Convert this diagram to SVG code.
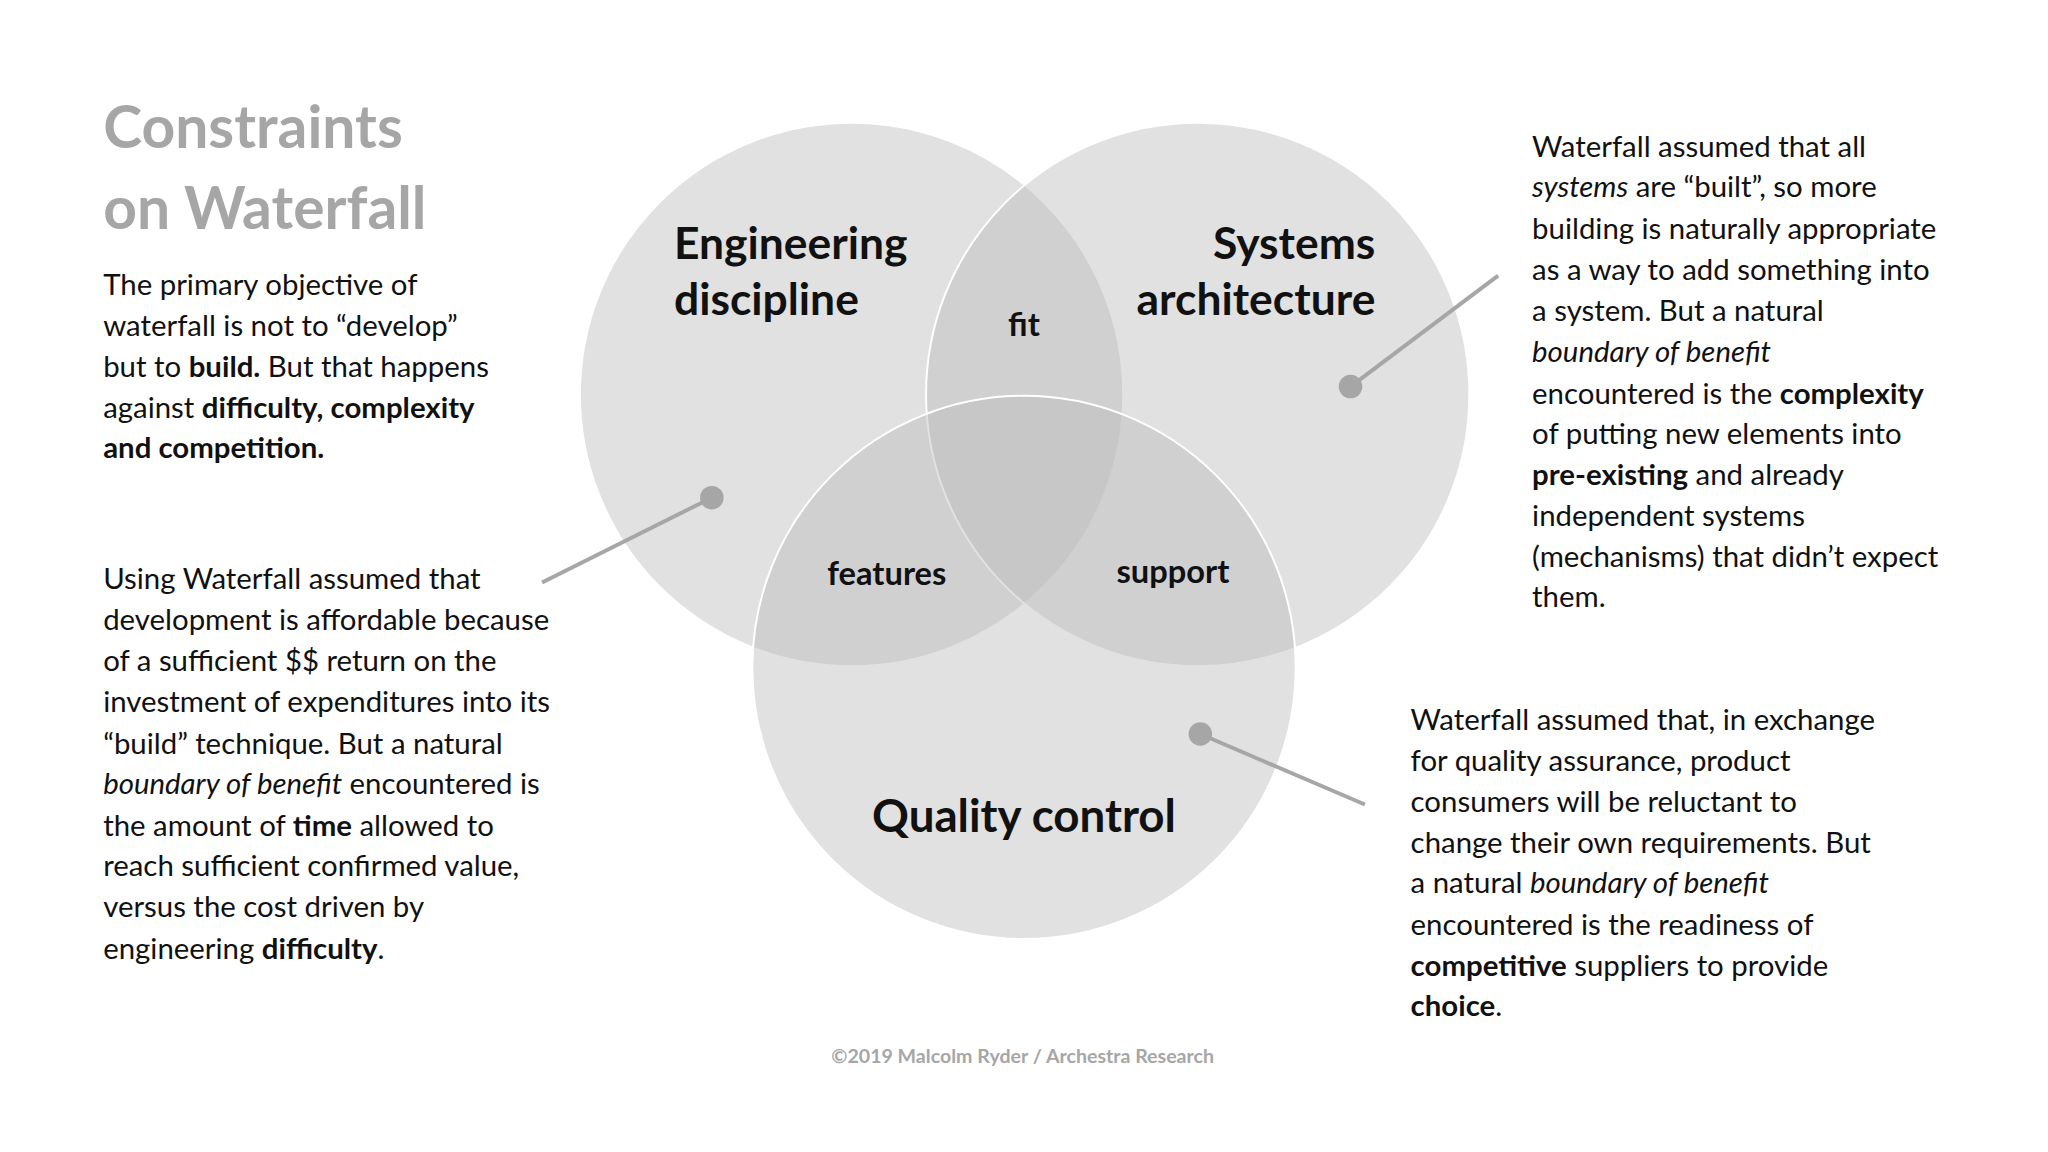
<svg xmlns="http://www.w3.org/2000/svg" width="2048" height="1152" viewBox="0 0 2048 1152">
<style>
.c{fill:#bdbdbd;fill-opacity:.45;stroke:#fff;stroke-width:1.5}
.t{font-family:Lato,"Open Sans",sans-serif;font-size:22.5px;fill:#111}
.b{font-weight:bold}
.i{font-style:italic}
.lab{font-family:Lato,"Open Sans",sans-serif;font-weight:bold;fill:#111}
.ln{stroke:#a6a6a6;stroke-width:3;fill:none}
.dot{fill:#a6a6a6}
</style>
<rect width="2048" height="1152" fill="#fff"/>
<g transform="scale(1.30612)">
<g id="title"><text x="79" y="113" font-family="Lato,sans-serif" font-weight="bold" font-size="45" fill="#a6a6a6">Constraints</text><text x="79" y="175" font-family="Lato,sans-serif" font-weight="bold" font-size="45" fill="#a6a6a6">on Waterfall</text></g>
<g id="circle-engineering"><circle class="c" cx="652" cy="302" r="208"/><text class="lab" font-size="34" x="516" y="198">Engineering</text><text class="lab" font-size="34" x="516" y="241">discipline</text></g>
<g id="circle-systems"><circle class="c" cx="917" cy="302" r="208"/><text class="lab" font-size="34" x="1053" y="198" text-anchor="end">Systems</text><text class="lab" font-size="34" x="1053" y="241" text-anchor="end">architecture</text></g>
<g id="circle-quality"><circle class="c" cx="784" cy="511" r="208"/><text class="lab" font-size="35" x="784" y="637" text-anchor="middle">Quality control</text></g>
<g id="overlaps"><text class="lab" font-size="25" x="784" y="257" text-anchor="middle">fit</text><text class="lab" font-size="25" x="679" y="448" text-anchor="middle">features</text><text class="lab" font-size="25" x="898" y="446" text-anchor="middle">support</text></g>
<g id="connectors"><line class="ln" x1="415" y1="446" x2="545" y2="381"/><circle class="dot" cx="545" cy="381" r="9"/><line class="ln" x1="1147" y1="211" x2="1034" y2="296"/><circle class="dot" cx="1034" cy="296" r="9"/><line class="ln" x1="919" y1="562" x2="1045" y2="616"/><circle class="dot" cx="919" cy="562" r="9"/></g>
<g id="text-left-1" class="t"><text x="79" y="226">The primary objective of</text><text x="79" y="257">waterfall is not to “develop”</text><text x="79" y="289">but to <tspan class="b">build.</tspan> But that happens</text><text x="79" y="320">against <tspan class="b">difficulty, complexity</tspan></text><text x="79" y="351" class="b">and competition.</text></g>
<g id="text-left-2" class="t"><text x="79" y="451">Using Waterfall assumed that</text><text x="79" y="482">development is affordable because</text><text x="79" y="514">of a sufficient $$ return on the</text><text x="79" y="545">investment of expenditures into its</text><text x="79" y="577">“build” technique. But a natural</text><text x="79" y="608"><tspan class="i">boundary of benefit</tspan> encountered is</text><text x="79" y="640">the amount of <tspan class="b">time</tspan> allowed to</text><text x="79" y="671">reach sufficient confirmed value,</text><text x="79" y="702">versus the cost driven by</text><text x="79" y="734">engineering <tspan class="b">difficulty</tspan>.</text></g>
<g id="text-right-1" class="t"><text x="1173" y="120">Waterfall assumed that all</text><text x="1173" y="151"><tspan class="i">systems</tspan> are “built”, so more</text><text x="1173" y="183">building is naturally appropriate</text><text x="1173" y="214">as a way to add something into</text><text x="1173" y="246">a system. But a natural</text><text x="1173" y="277" class="i">boundary of benefit</text><text x="1173" y="309">encountered is the <tspan class="b">complexity</tspan></text><text x="1173" y="340">of putting new elements into</text><text x="1173" y="371"><tspan class="b">pre-existing</tspan> and already</text><text x="1173" y="403">independent systems</text><text x="1173" y="434">(mechanisms) that didn’t expect</text><text x="1173" y="465">them.</text></g>
<g id="text-right-2" class="t"><text x="1080" y="559">Waterfall assumed that, in exchange</text><text x="1080" y="590">for quality assurance, product</text><text x="1080" y="622">consumers will be reluctant to</text><text x="1080" y="653">change their own requirements. But</text><text x="1080" y="684">a natural <tspan class="i">boundary of benefit</tspan></text><text x="1080" y="716">encountered is the readiness of</text><text x="1080" y="747"><tspan class="b">competitive</tspan> suppliers to provide</text><text x="1080" y="778"><tspan class="b">choice</tspan>.</text></g>
<g id="footer"><text x="783" y="814" text-anchor="middle" font-family="Lato,sans-serif" font-weight="bold" font-size="15" fill="#a6a6a6">©2019 Malcolm Ryder / Archestra Research</text></g>
</g>
</svg>
